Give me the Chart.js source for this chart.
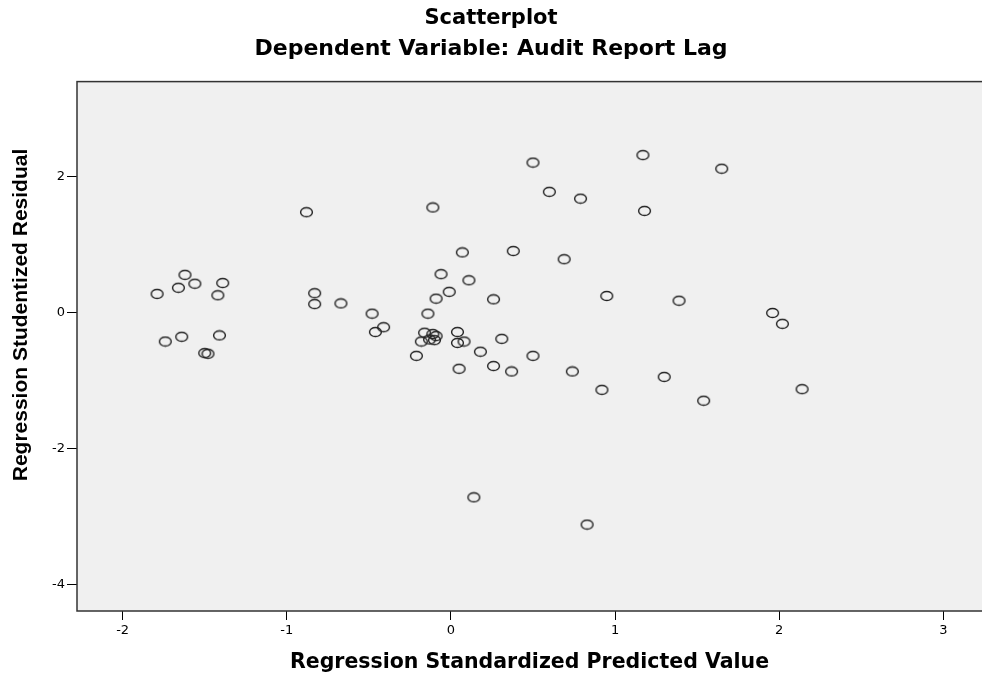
<!DOCTYPE html>
<html lang="en">
<head>
    <meta charset="UTF-8">
    <title>Scatterplot</title>
    <script src="https://cdn.jsdelivr.net/npm/chart.js"></script>
    <style>
        body { margin: 0; background: #fff; }
        canvas { display: block; }
    </style>
</head>
<body>
    <canvas id="myChart" width="982" height="677"></canvas>
    <script>
        // values
        const predicted = [
            -1.79, -1.62, -1.66, -1.56, -1.39, -1.42, -1.74, -1.64, -1.41, -1.50, -1.48,
            -0.83, -0.83, -0.67, -0.48, -0.41, -0.46, -0.88,
            -0.14, -0.21, -0.16, -0.18, -0.11, -0.09, -0.10, -0.13, 0.04, 0.04, 0.08,
            0.18, 0.31, 0.05, 0.26, 0.37, 0.50,
            0.50, 1.17, 0.60, 0.79, 1.18, -0.11, 0.07, 0.38, 0.69, -0.06, 0.11, -0.01,
            -0.09, 0.26, 0.95, 1.39, 0.74, 1.30, 0.92,
            1.65, 1.96, 2.02, 1.54, 2.14, 0.14, 0.83
        ];
        const residual = [
            0.27, 0.55, 0.36, 0.42, 0.43, 0.25, -0.43, -0.36, -0.34, -0.60, -0.61,
            0.28, 0.12, 0.13, -0.02, -0.22, -0.29, 1.47,
            -0.02, -0.64, -0.30, -0.43, -0.32, -0.35, -0.41, -0.40, -0.29, -0.45, -0.43,
            -0.58, -0.39, -0.83, -0.79, -0.87, -0.64,
            2.20, 2.31, 1.77, 1.67, 1.49, 1.54, 0.88, 0.90, 0.78, 0.56, 0.47, 0.30,
            0.20, 0.19, 0.24, 0.17, -0.87, -0.95, -1.14,
            2.11, -0.01, -0.17, -1.30, -1.13, -2.72, -3.12
        ];
        const xTicks = [-2, -1, 0, 1, 2, 3];
        const yTicks = [-4, -2, 0, 2];

        const points = predicted.map((x, i) => ({ x: x, y: residual[i] }));

        // hollow ellipse marker like the SPSS one
        const marker = document.createElement('canvas');
        marker.width = 15;
        marker.height = 12;
        const mctx = marker.getContext('2d');
        mctx.strokeStyle = '#222';
        mctx.lineWidth = 1.4;
        mctx.beginPath();
        mctx.ellipse(7.5, 6, 5.9, 4.5, 0, 0, Math.PI * 2);
        mctx.stroke();

        // grey plot area, frame and rotated y title
        const plotFrame = {
            id: 'plotFrame',
            beforeDraw(chart) {
                const a = chart.chartArea;
                const ctx = chart.ctx;
                ctx.save();
                ctx.fillStyle = '#f0f0f0';
                ctx.fillRect(a.left, a.top, a.right - a.left, a.bottom - a.top);
                ctx.restore();
            },
            afterDraw(chart) {
                const a = chart.chartArea;
                const ctx = chart.ctx;
                ctx.save();
                ctx.strokeStyle = '#333';
                ctx.lineWidth = 1.5;
                ctx.strokeRect(a.left, a.top, a.right - a.left + 20, a.bottom - a.top);
                ctx.translate(27, 315);
                ctx.rotate(-Math.PI / 2);
                ctx.fillStyle = '#000';
                ctx.font = 'bold 21px "Liberation Sans", Arial, sans-serif';
                ctx.textAlign = 'center';
                ctx.textBaseline = 'alphabetic';
                ctx.fillText('Regression Studentized Residual', 0, 0);
                ctx.restore();
            }
        };

        const ctx = document.getElementById('myChart').getContext('2d');
        const myChart = new Chart(ctx, {
            type: 'scatter',
            data: {
                datasets: [{
                    data: points,
                    pointStyle: marker,
                    pointRadius: 6,
                    pointHoverRadius: 6,
                    clip: false
                }]
            },
            options: {
                responsive: false,
                animation: false,
                layout: { autoPadding: false, padding: 0 },
                plugins: {
                    legend: { display: false },
                    tooltip: { enabled: false },
                    title: {
                        display: true,
                        text: 'Scatterplot',
                        color: '#000',
                        font: { family: 'DejaVu Sans', size: 21, weight: 'bold' },
                        padding: { top: 6, bottom: 3 }
                    },
                    subtitle: {
                        display: true,
                        text: 'Dependent Variable: Audit Report Lag',
                        color: '#000',
                        font: { family: 'DejaVu Sans', size: 22, weight: 'bold' },
                        padding: { top: 2, bottom: 19 }
                    }
                },
                scales: {
                    x: {
                        type: 'linear',
                        min: -2.278,
                        max: 3.236,
                        afterBuildTicks: s => { s.ticks = xTicks.map(v => ({ value: v })); },
                        afterFit: s => { s.height = 66; },
                        border: { display: false },
                        grid: { drawOnChartArea: false, drawTicks: true, tickLength: 9, color: '#000' },
                        ticks: {
                            color: '#000',
                            padding: 3,
                            maxRotation: 0,
                            font: { family: 'DejaVu Sans', size: 13 }
                        },
                        title: {
                            display: true,
                            text: 'Regression Standardized Predicted Value',
                            color: '#000',
                            font: { family: 'DejaVu Sans', size: 20.5, weight: 'bold' },
                            padding: { top: 0, bottom: 2 }
                        }
                    },
                    y: {
                        type: 'linear',
                        min: -4.39,
                        max: 3.39,
                        afterBuildTicks: s => { s.ticks = yTicks.map(v => ({ value: v })); },
                        afterFit: s => { s.width = 77; },
                        border: { display: false },
                        grid: { drawOnChartArea: false, drawTicks: true, tickLength: 10, color: '#000' },
                        ticks: {
                            color: '#000',
                            padding: 2,
                            font: { family: 'DejaVu Sans', size: 13 }
                        }
                    }
                }
            },
            plugins: [plotFrame]
        });
    </script>
</body>
</html>
